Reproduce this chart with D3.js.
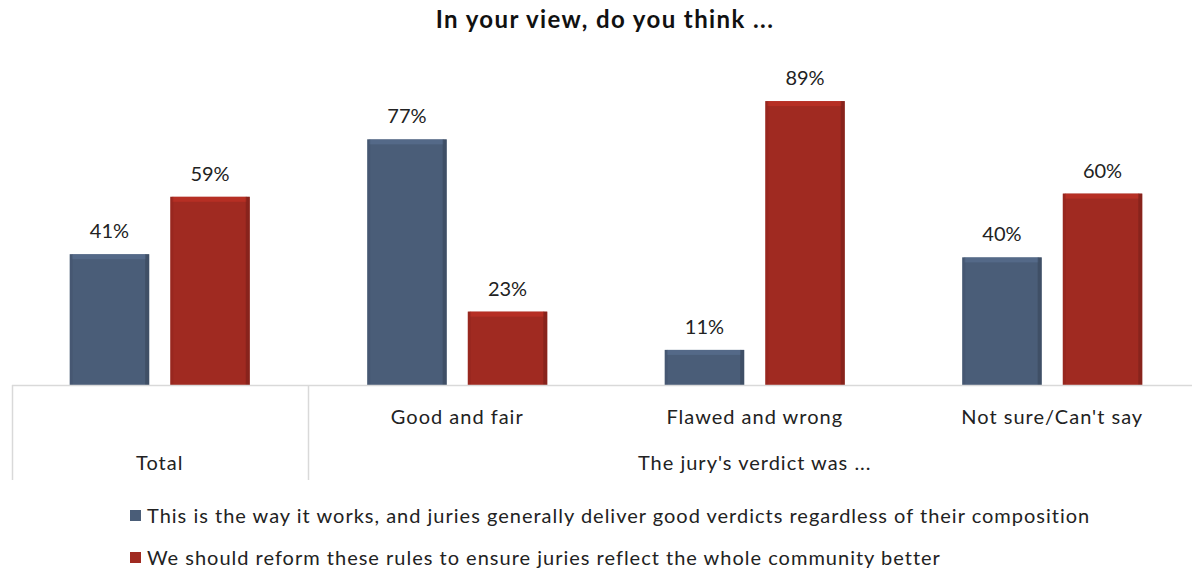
<!DOCTYPE html>
<html>
<head>
<meta charset="utf-8">
<script src="https://cdn.jsdelivr.net/npm/d3@7"></script>
<style>
  html, body { margin: 0; padding: 0; background: #fff; }
  svg { display: block; font-family: Lato, "Open Sans", sans-serif; }
</style>
</head>
<body>
<svg id="chart" width="1192" height="571"></svg>
<script>
const title = "In your view, do you think ...";
const categories = ["Total", "Good and fair", "Flawed and wrong", "Not sure/Can't say"];
const seriesNames = [
  "This is the way it works, and juries generally deliver good verdicts regardless of their composition",
  "We should reform these rules to ensure juries reflect the whole community better"
];
const seriesA = [41, 77, 11, 40];
const seriesB = [59, 23, 89, 60];
const groupLabel = "The jury's verdict was ...";
const colors = ["#4a5d78", "#a02a21"];

const svg = d3.select("#chart");
const baseY = 385;

const x0 = d3.scaleBand().domain(categories).range([11, 1201]).padding(0);
const groupW = 180;
const x1 = d3.scaleBand().domain([0, 1]).range([0, groupW]).paddingInner(0.21).paddingOuter(0);
const y = d3.scaleLinear().domain([0, 100]).range([baseY, baseY - 319]);

const data = categories.map((c, i) => ({ cat: c, vals: [seriesA[i], seriesB[i]] }));

// title
svg.append("text").attr("x", 605).attr("y", 28).attr("text-anchor", "middle")
  .attr("font-size", 24).attr("font-weight", "bold").attr("letter-spacing", 1.4)
  .attr("fill", "#111").text(title);

const g = svg.append("g");
const groups = g.selectAll("g.grp").data(data).join("g")
  .attr("transform", d => `translate(${x0(d.cat) + (x0.bandwidth() - groupW) / 2},0)`);

groups.each(function(d) {
  const gg = d3.select(this);
  d.vals.forEach((v, k) => {
    const bx = x1(k), bw = x1.bandwidth(), by = y(v), bh = baseY - y(v);
    const base = d3.color(colors[k]);
    gg.append("rect").attr("x", bx).attr("y", by).attr("width", bw).attr("height", bh).attr("fill", colors[k]);
    // bevel: top highlight
    gg.append("rect").attr("x", bx + 2).attr("y", by).attr("width", bw - 5).attr("height", Math.min(5, bh))
      .attr("fill", base.brighter(0.5)).attr("opacity", 0.7);
    // right shadow
    gg.append("rect").attr("x", bx + bw - 4).attr("y", by).attr("width", 4).attr("height", bh)
      .attr("fill", base.darker(0.8)).attr("opacity", 0.6);
    // left subtle
    gg.append("rect").attr("x", bx).attr("y", by).attr("width", 3).attr("height", bh)
      .attr("fill", base.darker(0.4)).attr("opacity", 0.4);
    gg.append("text").attr("x", bx + bw / 2).attr("y", by - 16).attr("text-anchor", "middle")
      .attr("font-size", 20).attr("fill", "#222").text(v + "%");
  });
});

// axis line and dividers
svg.append("line").attr("x1", 12).attr("x2", 1192).attr("y1", baseY + 0.5).attr("y2", baseY + 0.5)
  .attr("stroke", "#d9d9d9").attr("stroke-width", 1.5);
svg.append("line").attr("x1", 12.5).attr("x2", 12.5).attr("y1", baseY).attr("y2", 480)
  .attr("stroke", "#d9d9d9").attr("stroke-width", 1.5);
const divX = x0(categories[1]);
svg.append("line").attr("x1", divX).attr("x2", divX).attr("y1", baseY).attr("y2", 480)
  .attr("stroke", "#d9d9d9").attr("stroke-width", 1.5);

// category labels
const lab = (x, yy, t) => svg.append("text").attr("x", x).attr("y", yy).attr("text-anchor", "middle")
  .attr("font-size", 20).attr("letter-spacing", 1).attr("fill", "#222").text(t);
categories.forEach((c, i) => {
  if (i === 0) return;
  lab(x0(c) + x0.bandwidth() / 2, 424, c);
});
lab(x0(categories[0]) + x0.bandwidth() / 2, 470, categories[0]);
lab((x0(categories[1]) + x0(categories[3]) + x0.bandwidth()) / 2, 470, groupLabel);

// legend
seriesNames.forEach((s, i) => {
  const ly = 516 + i * 42;
  svg.append("rect").attr("x", 130).attr("y", ly - 6).attr("width", 11).attr("height", 11).attr("fill", colors[i]);
  svg.append("text").attr("x", 147).attr("y", ly + 7).attr("font-size", 20).attr("letter-spacing", 1)
    .attr("fill", "#222").text(s);
});
</script>
</body>
</html>
